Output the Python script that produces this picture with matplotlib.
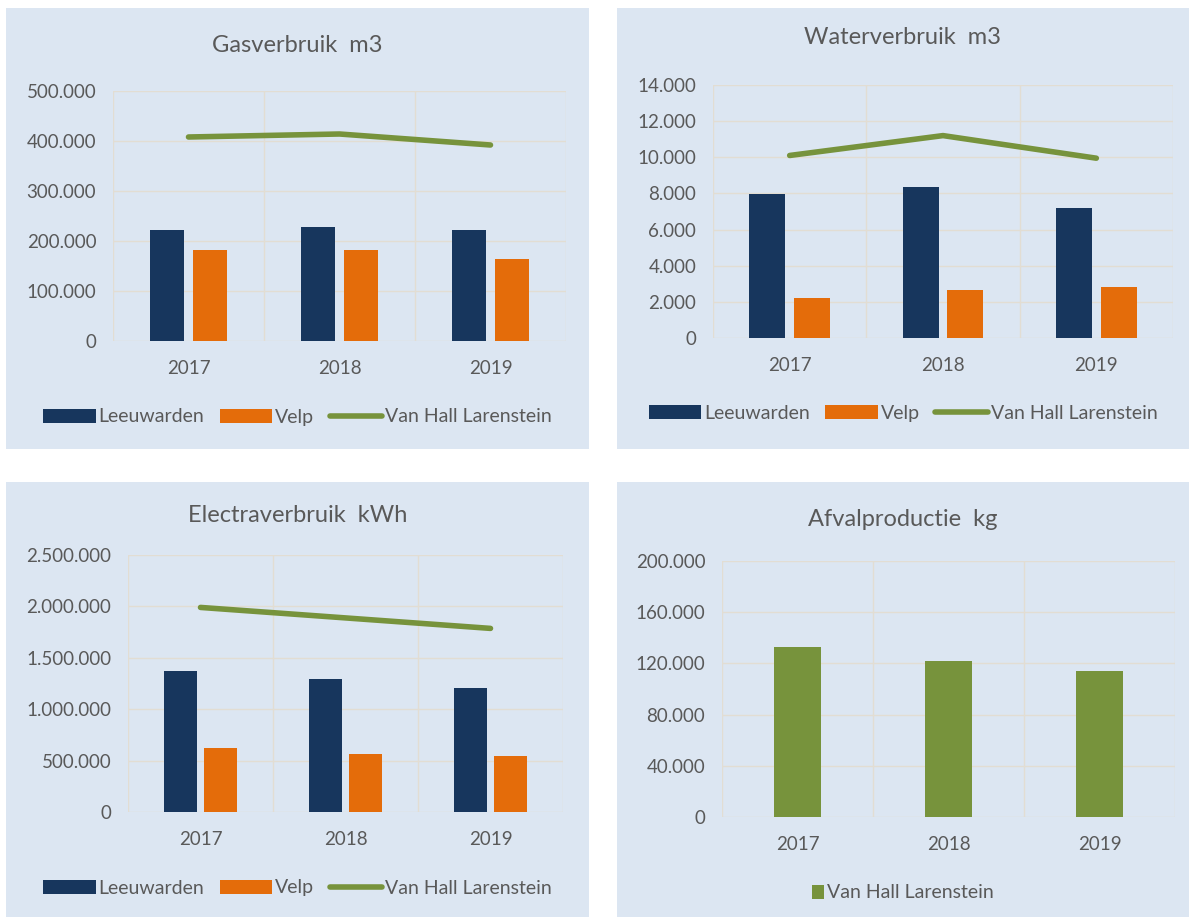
import matplotlib.pyplot as plt
import numpy as np
from matplotlib.patches import Rectangle
from matplotlib.ticker import FuncFormatter

plt.rcParams["font.family"] = ["Lato", "DejaVu Sans"]

years = ["2017", "2018", "2019"]

gas_leeuwarden = [223000, 228000, 223000]
gas_velp = [182000, 182000, 165000]
gas_vhl = [408000, 414000, 392000]

water_leeuwarden = [7950, 8350, 7200]
water_velp = [2200, 2670, 2820]
water_vhl = [10100, 11200, 9950]

electra_leeuwarden = [1375000, 1293000, 1210000]
electra_velp = [625000, 569000, 543000]
electra_vhl = [1990000, 1888000, 1786000]

afval_vhl = [132500, 122000, 114000]

NAVY = "#17365d"
ORANGE = "#e46c0a"
GREEN = "#77933c"
BG = "#dce6f2"
GRID = "#e2ddd3"
TEXT = "#595959"

W, H = 1189, 917
fig = plt.figure(figsize=(W / 100, H / 100), dpi=100)
fig.patch.set_facecolor("white")


def fbox(x0, y0, x1, y1):
    # pixel box (top-left origin) -> figure fraction [l, b, w, h]
    return [x0 / W, 1 - y1 / H, (x1 - x0) / W, (y1 - y0) / H]


def dutch(v, _pos=None):
    return f"{int(round(v)):,}".replace(",", ".")


def panel(bg_box, ax_box, title, title_y, ymax, step, bars, line, bar_w, legend_y):
    l, b, w, h = fbox(*bg_box)
    fig.add_artist(Rectangle((l, b), w, h, transform=fig.transFigure,
                             facecolor=BG, edgecolor="none", zorder=0))
    ax = fig.add_axes(fbox(*ax_box))
    ax.set_facecolor(BG)
    x = np.arange(len(years))
    handles = []
    n = len(bars)
    gap = 0.055
    offs = (np.arange(n) - (n - 1) / 2) * (bar_w + gap)
    for (label, vals, color), o in zip(bars, offs):
        hnd = ax.bar(x + o, vals, bar_w, color=color, label=label, zorder=3)
        handles.append(hnd)
    if line is not None:
        label, vals = line
        (ln,) = ax.plot(x, vals, color=GREEN, lw=4, label=label, zorder=4,
                        solid_capstyle="round")
        handles.append(ln)
    ax.set_xlim(-0.5, len(years) - 0.5)
    ax.set_ylim(0, ymax)
    ax.set_yticks(np.arange(0, ymax + step / 2, step))
    ax.yaxis.set_major_formatter(FuncFormatter(dutch))
    ax.set_xticks(x)
    ax.set_xticklabels(years)
    ax.set_xticks([-0.5, 0.5, 1.5, 2.5], minor=True)
    ax.grid(axis="y", color=GRID, lw=1, zorder=0)
    ax.grid(axis="x", which="minor", color=GRID, lw=1, zorder=0)
    for s in ax.spines.values():
        s.set_visible(False)
    ax.tick_params(axis="both", which="both", length=0, colors=TEXT, labelsize=13.5)
    ax.tick_params(axis="x", pad=14)
    ax.tick_params(axis="y", pad=12)
    cx = (bg_box[0] + bg_box[2]) / 2
    fig.text(cx / W, 1 - title_y / H, title, ha="center", va="center",
             fontsize=17, color=TEXT)
    fig.legend(handles=handles, loc="center", bbox_to_anchor=(cx / W, 1 - legend_y / H),
               ncol=len(handles), frameon=False, fontsize=14, labelcolor=TEXT,
               handlelength=2.7 if line is not None else 0.65, handleheight=0.75,
               handletextpad=0.15, columnspacing=0.8)
    return ax


panel((6, 8, 589, 449), (113, 91, 566, 341), "Gasverbruik  m3", 45,
      500000, 100000,
      [("Leeuwarden", gas_leeuwarden, NAVY), ("Velp", gas_velp, ORANGE)],
      ("Van Hall Larenstein", gas_vhl), 0.23, 417)

panel((617, 8, 1189, 449), (713, 85, 1173, 338), "Waterverbruik  m3", 38,
      14000, 2000,
      [("Leeuwarden", water_leeuwarden, NAVY), ("Velp", water_velp, ORANGE)],
      ("Van Hall Larenstein", water_vhl), 0.235, 413)

panel((6, 482, 589, 917), (128, 555, 563, 812), "Electraverbruik  kWh", 515,
      2500000, 500000,
      [("Leeuwarden", electra_leeuwarden, NAVY), ("Velp", electra_velp, ORANGE)],
      ("Van Hall Larenstein", electra_vhl), 0.225, 888)

panel((617, 482, 1189, 917), (722, 561, 1175, 817), "Afvalproductie  kg", 520,
      200000, 40000,
      [("Van Hall Larenstein", afval_vhl, GREEN)],
      None, 0.31, 893)

fig.savefig("out.png", dpi=100)
